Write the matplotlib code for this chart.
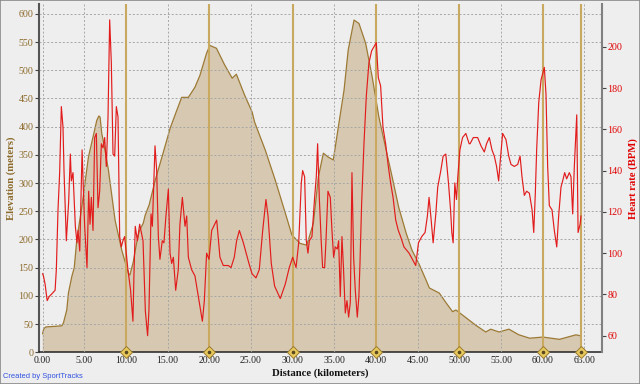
import numpy as np
import matplotlib
matplotlib.use("Agg")
import matplotlib.pyplot as plt
from matplotlib.patches import Rectangle

# elevation profile (km, meters)
elev_km = [0.0, 0.15, 0.4, 1.5, 2.3, 2.5, 2.9, 3.1, 3.5, 3.8, 4.1, 4.7, 5.5, 6.1, 6.5, 6.75,
           6.9, 7.1, 7.5, 7.9, 8.7, 9.5, 10.3, 10.47, 10.88, 11.28, 11.6, 12.08, 12.31,
           12.8, 13.51, 14.2, 14.9, 15.3, 16.0, 16.69, 17.49, 18.28, 18.88, 19.67, 20.07,
           20.86, 21.86, 22.75, 23.25, 24.24, 25.14, 25.44, 26.73, 27.92, 29.12, 29.91,
           30.9, 31.7, 32.49, 33.09, 33.69, 34.28, 34.88, 35.48, 36.17, 36.67, 37.37,
           37.96, 38.76, 39.55, 40.35, 41.14, 41.94, 42.73, 43.63, 44.32, 45.12, 46.01,
           46.41, 47.6, 48.4, 49.19, 49.59, 51.18, 51.97, 53.17, 53.77, 54.76, 55.95,
           57.15, 58.44, 60.03, 62.02, 64.0, 64.6]
elev_m = [33, 42, 45, 46, 47, 52, 75, 105, 134, 150, 199, 257, 346, 385, 411, 419,
          417, 388, 358, 323, 234, 181, 140, 137, 160, 194, 215, 229, 243,
          262, 305, 340, 376, 397, 425, 452, 452, 470, 491, 530, 544,
          539, 509, 486, 493, 456, 426, 408, 358, 305, 247, 208,
          193, 190, 229, 311, 353, 346, 341, 399, 465, 536, 589,
          583, 548, 488, 417, 364, 311, 257, 211, 181, 158, 128,
          114, 105, 88, 72, 75, 57, 48, 36, 41, 36, 41,
          31, 25, 27, 23, 31, 29]

# heart rate (km, bpm)
hr_km = [0.0, 0.1, 0.3, 0.55, 0.8, 1.05, 1.5, 1.65, 1.85, 2.05, 2.25, 2.45, 2.57, 2.85,
         3.13, 3.33, 3.45, 3.65, 3.93, 4.13, 4.25, 4.46, 4.74, 4.9, 5.05, 5.33, 5.53,
         5.69, 5.85, 6.05, 6.25, 6.45, 6.65, 6.85, 7.05, 7.25, 7.45, 7.65, 7.85, 8.05,
         8.25, 8.45, 8.65, 8.85, 9.05, 9.25, 9.44, 9.64, 9.84, 10.24, 10.56, 10.84,
         10.96, 11.12, 11.37, 11.65, 12.05, 12.33, 12.6, 12.76, 13.01, 13.17, 13.49,
         13.69, 13.89, 14.08, 14.36, 14.56, 14.8, 15.09, 15.29, 15.49, 15.69, 15.97,
         16.28, 16.48, 16.77, 17.09, 17.29, 17.49, 17.88, 18.28, 18.61, 18.89, 19.17,
         19.41, 19.68, 19.97, 20.29, 20.89, 21.28, 21.68, 22.28, 22.61, 23.0, 23.28,
         23.61, 24.09, 24.76, 25.13, 25.6, 26.0, 26.41, 26.8, 27.05, 27.44, 27.84,
         28.52, 29.12, 29.6, 30.01, 30.41, 30.73, 31.04, 31.2, 31.44, 31.64, 31.84,
         32.0, 32.32, 32.64, 32.84, 33.0, 33.2, 33.44, 33.6, 33.84, 33.99, 34.24,
         34.52, 34.72, 34.92, 35.12, 35.36, 35.52, 35.72, 35.92, 36.11, 36.32, 36.52,
         36.72, 36.92, 37.12, 37.32, 37.52, 37.76, 37.95, 38.08, 38.28, 38.56, 38.84,
         39.15, 39.48, 39.76, 40.04, 40.28, 40.56, 40.84, 41.16, 41.48, 41.76, 42.05,
         42.37, 42.68, 42.96, 43.36, 43.97, 44.37, 44.77, 45.1, 45.49, 45.89, 46.17,
         46.37, 46.58, 46.86, 47.18, 47.41, 47.78, 48.06, 48.38, 48.7, 48.95, 49.1,
         49.26, 49.46, 49.66, 49.82, 50.07, 50.39, 50.78, 51.18, 51.29, 51.68, 52.2,
         52.6, 53.0, 53.27, 53.6, 53.92, 54.2, 54.47, 54.72, 54.92, 55.2, 55.6, 55.93,
         56.2, 56.6, 57.01, 57.29, 57.52, 57.8, 58.08, 58.41, 58.73, 58.93, 59.12,
         59.28, 59.53, 59.81, 60.2, 60.4, 60.6, 60.8, 61.12, 61.4, 61.69, 61.92, 62.2,
         62.4, 62.64, 62.88, 63.2, 63.4, 63.6, 63.8, 64.09, 64.25, 64.49, 64.6]
hr_bpm = [90, 89, 85, 77, 79, 80, 82, 92, 121, 139, 171, 161, 140, 106,
          125, 148, 135, 139, 113, 105, 111, 101, 150, 130, 113, 93, 130,
          114, 127, 111, 156, 158, 122, 130, 153, 151, 156, 142, 166, 213,
          192, 148, 147, 171, 166, 108, 103, 106, 108, 92, 82, 67,
          89, 113, 106, 114, 106, 72, 60, 72, 119, 113, 152,
          140, 108, 97, 106, 105, 118, 131, 100, 95, 98, 82,
          92, 114, 127, 113, 118, 98, 92, 89, 81, 74, 67,
          77, 100, 97, 111, 116, 98, 94, 94, 93, 98, 106,
          111, 105, 95, 90, 88, 92, 111, 126, 118, 95, 84,
          78, 85, 93, 98, 93, 105, 134, 140, 137, 106, 100,
          106, 108, 127, 137, 153, 127, 105, 93, 93, 105, 130,
          127, 111, 98, 103, 102, 106, 79, 108, 92, 71, 77,
          69, 76, 139, 98, 82, 69, 79, 95, 124, 153, 176,
          192, 198, 200, 202, 185, 181, 161, 153, 142, 134, 127,
          116, 111, 108, 103, 100, 97, 94, 105, 108, 110, 118,
          127, 118, 105, 119, 132, 140, 147, 148, 134, 121, 110,
          105, 134, 126, 137, 150, 156, 158, 153, 153, 156, 156,
          152, 149, 153, 156, 150, 147, 142, 135, 145, 158, 155, 147,
          143, 142, 143, 147, 137, 128, 130, 129, 121, 110, 129,
          150, 173, 184, 190, 177, 142, 123, 121, 111, 103, 118, 132,
          135, 139, 136, 139, 137, 119, 142, 167, 110, 114, 118]

lap_km = [10, 20, 30, 40, 50, 60, 64.6]
x_ticks = [0, 5, 10, 15, 20, 25, 30, 35, 40, 45, 50, 55, 60, 65]
elev_ticks = [0, 50, 100, 150, 200, 250, 300, 350, 400, 450, 500, 550, 600]
hr_ticks = [60, 80, 100, 120, 140, 160, 180, 200]

bg = "#EEEEEE"
brown = "#8C6A2A"
red = "#E00000"
serif = "Liberation Serif"

fig = plt.figure(figsize=(6.4, 3.84), dpi=100, facecolor=bg)
ax = fig.add_axes([39 / 640, (384 - 352.3) / 384, (602 - 39) / 640, 348.3 / 384])
ax.set_facecolor(bg)
ax.set_xlim(-0.43, 67.12)
ax.set_ylim(0, 617.5)

# elevation area
ax.fill_between(elev_km, elev_m, 0, facecolor="#D7C9B1", edgecolor="none", zorder=1)
ax.plot(elev_km, elev_m, color="#9C7A35", lw=0.9, zorder=1.5)

# grid
ax.set_axisbelow(False)
ax.grid(True, color="#A6A6A6", linestyle=(0, (2, 2)), lw=0.7)

# lap markers
for k in lap_km:
    ax.axvline(k, color="#C9A860", lw=1.5, zorder=3)
ax.plot(lap_km, [0] * len(lap_km), linestyle="none", marker="D", markersize=6,
        markerfacecolor="#E8C95C", markeredgecolor="#9A7A30", markeredgewidth=0.7,
        clip_on=False, zorder=6)
ax.plot(lap_km, [0] * len(lap_km), linestyle="none", marker="o", markersize=1.6,
        color="#5A4820", clip_on=False, zorder=7)

ax.set_xticks(x_ticks)
ax.set_xticklabels([f"{v:.2f}" for v in x_ticks], fontsize=7, family=serif, color="#222222")
ax.set_yticks(elev_ticks)
ax.set_yticklabels([str(v) for v in elev_ticks], fontsize=7.2, family=serif, color=brown)
ax.tick_params(axis="x", length=0, pad=3)
ax.tick_params(axis="y", length=3, width=0.8, color="#444444", pad=1)

for s in ["top", "right"]:
    ax.spines[s].set_visible(False)
ax.spines["left"].set_color("#555555")
ax.spines["left"].set_linewidth(1.5)
ax.spines["bottom"].set_color("#222222")
ax.spines["bottom"].set_linewidth(1.1)

ax.set_xlabel("Distance (kilometers)", fontsize=7.7, family=serif, fontweight="bold",
              color="#111111", labelpad=2)
ax.set_ylabel("Elevation (meters)", fontsize=7.7, family=serif, fontweight="bold",
              color=brown, labelpad=2)

# heart rate
ax2 = ax.twinx()
ax2.set_ylim(51.96, 220.7)
ax2.plot(hr_km, hr_bpm, color="#E21C1C", lw=0.85, zorder=4)
ax2.set_yticks(hr_ticks)
ax2.set_yticklabels([str(v) for v in hr_ticks], fontsize=7.2, family=serif, color=red)
ax2.tick_params(axis="y", length=3, width=0.8, color="#444444", pad=1)
for s in ["top", "left", "bottom"]:
    ax2.spines[s].set_visible(False)
ax2.spines["right"].set_color("#808080")
ax2.spines["right"].set_linewidth(1.5)
ax2.set_ylabel("Heart rate (BPM)", fontsize=7.7, family=serif, fontweight="bold",
               color=red, rotation=90, labelpad=4)

fig.text(3 / 640, 1 - 377 / 384, "Created by SportTracks", fontsize=5.4,
         family="Liberation Sans", color="#2F4FE0", va="center", ha="left")

fig.patches.append(Rectangle((0, 0), 1, 1, transform=fig.transFigure, fill=False,
                             edgecolor="#8A8A8A", lw=1.2))

fig.savefig("out.png", dpi=100, facecolor=bg)
